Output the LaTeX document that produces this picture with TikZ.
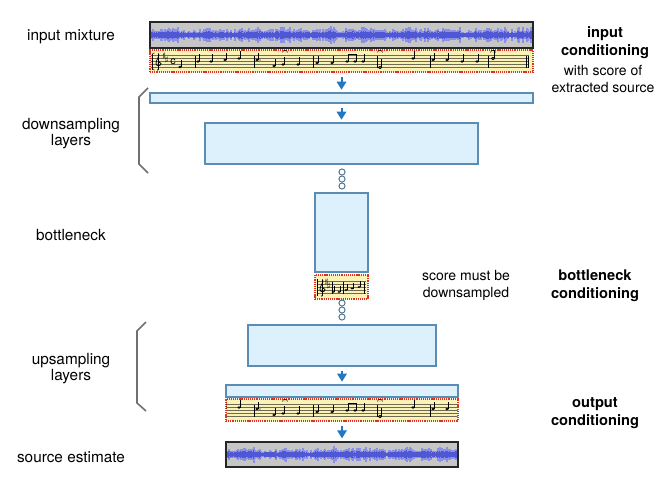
\documentclass[tikz,border=0pt]{standalone}
\usepackage{fontspec}
\setmainfont{TeX Gyre Heros}
\usetikzlibrary{fit,arrows.meta}
\definecolor{boxfill}{HTML}{DCF1FC}
\definecolor{boxdraw}{HTML}{5B8DB4}
\definecolor{arrowc}{HTML}{1F78C1}
\definecolor{wavebg}{HTML}{C6C6C6}
\definecolor{waveA}{HTML}{8A90E4}
\definecolor{waveB}{HTML}{4F57D4}
\definecolor{scorefill}{HTML}{FBF3B6}
\definecolor{scoredraw}{HTML}{E0301E}
\definecolor{brk}{HTML}{707070}
\definecolor{staffc}{HTML}{6F6A55}
\tikzset{
  layerbox/.style={draw=boxdraw, fill=boxfill, line width=0.9pt, inner sep=0pt},
  wavebox/.style={draw=black!85, fill=wavebg, line width=1.4pt, inner sep=0pt},
  scorebox/.style={draw=scoredraw, fill=scorefill, line width=0.9pt, dash pattern=on 0.9pt off 0.7pt, inner sep=0pt},
  arr/.style={draw=arrowc, line width=1.5pt, -{Triangle[length=6pt,width=7pt]}, shorten <=3pt, shorten >=2pt},
  dotc/.style={draw=boxdraw!80!black, line width=0.7pt, fill=white, circle, inner sep=0pt, minimum size=4.6pt},
  lbl/.style={font=\fontsize{11.5}{12}\selectfont, align=center, inner sep=0pt},
  rlbl/.style={font=\fontsize{10.5}{12.75}\selectfont, align=center, inner sep=0pt},
  blbl/.style={font=\fontsize{11}{13.5}\selectfont\bfseries, align=center, inner sep=0pt},
  staff/.style={draw=staffc, line width=0.4pt},
  stem/.style={draw=black, line width=0.45pt},
  brack/.style={draw=brk, line width=1.2pt},
}
\newcommand\wavedraw[4]{%
  \pgfmathsetseed{11}%
  \foreach \x in {#1,...,#2}{%
    \pgfmathsetmacro\wr{rnd}%
    \pgfmathsetmacro\wa{#4*(0.32+0.08*sin(\x*9)+0.06*sin(\x*23)+0.45*\wr*\wr)}%
    \pgfmathsetmacro\wb{\wa*0.4+1}%
    \draw[waveA, line width=0.8pt] (\x,#3-\wa) -- (\x,#3+\wa);%
    \draw[waveB, line width=0.8pt] (\x,#3-\wb) -- (\x,#3+\wb);%
  }%
}
\newcommand\nt[2]{%
  \fill (#1,#2) ellipse[x radius=1.3pt, y radius=0.95pt];
  \draw[stem] (#1+1.6,#2) -- (#1+1.6,#2-7.5);}
\newcommand\hnt[2]{%
  \draw[line width=0.5pt] (#1,#2) ellipse[x radius=1.3pt, y radius=0.95pt];
  \draw[stem] (#1+1.6,#2) -- (#1+1.6,#2-9);}
\newcommand\ferm[1]{%
  \draw[line width=0.4pt] (#1-2.5,52.5) .. controls (#1-2.5,49.5) and (#1+2.5,49.5) .. (#1+2.5,52.5);
  \fill (#1,52) circle (0.35pt);}
\newcommand\barln[1]{\draw[line width=0.5pt] (#1,55.5) -- (#1,67.5);}
\newcommand\shp[2]{\node[inner sep=0pt, font=\fontsize{5}{5}\selectfont] at (#1,#2) {$\sharp$};}
\newcommand\clef[2]{% x, staff-middle y
  \draw[line width=0.55pt] (#1+0.5,#2-8) .. controls (#1+2.5,#2-6) and (#1-2.5,#2-1) .. (#1-2,#2+2)
     .. controls (#1-2,#2+5) and (#1+3,#2+5) .. (#1+3,#2+2)
     .. controls (#1+3,#2) and (#1-0.5,#2) .. (#1,#2+2);
  \draw[line width=0.5pt] (#1+0.5,#2-8) -- (#1+0.5,#2+8) .. controls (#1+0.5,#2+9) and (#1-1,#2+9) .. (#1-1,#2+8);}
\newcommand\scorecontent{%
  \foreach \yy in {55.5,58.5,61.5,64.5,67.5} \draw[staff] (151,\yy) -- (529,\yy);
  \draw[line width=1.1pt] (152.5,53.5) -- (152.5,69.5);
  \draw[line width=0.4pt] (152.5,53.5) -- (154.5,53) (152.5,69.5) -- (154.5,70);
  \clef{158}{61.5}
  \shp{164}{55.5} \shp{166.5}{59.5}
  \node[inner sep=0pt, font=\fontsize{8}{8}\selectfont] at (173,61.5) {c};
  \nt{180}{67}
  \barln{195}
  \nt{198}{61.5} \nt{211}{61.5} \nt{225}{60} \nt{239}{58.5}
  \barln{254}
  \nt{257}{60} \fill (260,60) circle (0.4pt);
  \nt{274}{66} \nt{283}{64.5} \nt{298}{64.5}
  \ferm{285}
  \barln{313}
  \nt{317}{63} \nt{332}{63} \nt{347}{61.5} \nt{355}{61.5} \nt{363}{61.5}
  \draw[line width=1pt] (348.6,54.5) -- (356.6,54.5);
  \barln{377}
  \hnt{380}{67.5} \ferm{380}
  \nt{413}{58.5}
  \barln{430}
  \nt{433}{60} \nt{447}{60} \nt{462}{61.5} \nt{477}{61.5}
  \barln{488}
  \hnt{493}{58.5} \ferm{493}
  \draw[line width=0.4pt] (526,55.5) -- (526,67.5);
  \draw[line width=1.3pt] (528.5,55.5) -- (528.5,67.5);
}
\begin{document}
\begin{tikzpicture}[x=0.75pt, y=-0.75pt]
\useasboundingbox (0,0) rectangle (671,489);

% ---------- top: input mixture + score ----------
\node[wavebox, fit={(150,22)(533,48)}] (mix) {};
\begin{scope}
  \clip (151,23) rectangle (532,47);
  \wavedraw{152}{531}{35}{10}
\end{scope}
\node[scorebox, fit={(150,50)(533,72)}] (score1) {};
\begin{scope}
  \clip (150.5,50.5) rectangle (532.5,71.5);
  \scorecontent
\end{scope}

% ---------- downsampling ----------
\node[layerbox, fit={(150,93)(533,103)}] (down1) {};
\node[layerbox, fit={(205,123)(478,164)}] (down2) {};
\node[dotc] (c1) at (342,172) {};
\node[dotc] (c2) at (342,179) {};
\node[dotc] (c3) at (342,186) {};

% ---------- bottleneck ----------
\node[layerbox, fit={(315,193)(368,272)}] (bott) {};
\node[scorebox, fit={(315,275)(368,299)}] (score2) {};
\begin{scope}
  \clip (315.5,275.5) rectangle (367.5,298.5);
  \foreach \yy in {281.5,284.5,287.5,290.5,293.5} \draw[staff] (317,\yy) -- (366,\yy);
  \draw[line width=0.9pt] (317.5,279) -- (317.5,296);
  \clef{322}{287.5}
  \node[inner sep=0pt, font=\fontsize{5}{5}\selectfont] at (326.5,281.5) {$\sharp$};
  \node[inner sep=0pt, font=\fontsize{5}{5}\selectfont] at (328.5,285.5) {$\sharp$};
  \draw[line width=0.4pt] (332,281.5) -- (332,293.5);
  \fill (333,292) ellipse[x radius=1pt, y radius=0.8pt]; \draw[stem] (334.2,292) -- (334.2,286);
  \fill (339,292) ellipse[x radius=1pt, y radius=0.8pt]; \draw[stem] (340.2,292) -- (340.2,286);
  \draw[line width=0.4pt] (343,281.5) -- (343,293.5);
  \fill (346,290) ellipse[x radius=1pt, y radius=0.8pt]; \draw[stem] (347.2,290) -- (347.2,284);
  \fill (352,288.5) ellipse[x radius=1pt, y radius=0.8pt]; \draw[stem] (353.2,288.5) -- (353.2,282.5);
  \fill (359,287) ellipse[x radius=1pt, y radius=0.8pt]; \draw[stem] (360.2,287) -- (360.2,281);
  \draw[line width=0.4pt] (364,281.5) -- (364,293.5);
\end{scope}
\node[dotc] (c4) at (342,303) {};
\node[dotc] (c5) at (342,310) {};
\node[dotc] (c6) at (342,317) {};

% ---------- upsampling ----------
\node[layerbox, fit={(248,325)(436,366)}] (up1) {};
\node[layerbox, fit={(226,385)(458,397)}] (up2) {};
\node[scorebox, fit={(226,399)(458,421)}] (score3) {};
\begin{scope}
  \clip (226.5,399.5) rectangle (457.5,420.5);
  \begin{scope}[shift={(0,349)}]
    \scorecontent
  \end{scope}
\end{scope}
\node[wavebox, fit={(226,442)(458,467)}] (est) {};
\begin{scope}
  \clip (227,443) rectangle (457,466);
  \wavedraw{228}{456}{454.5}{9.5}
\end{scope}

% ---------- arrows ----------
\draw[arr] (score1.south) -- (down1.north);
\draw[arr] (down1.south) -- (down2.north);
\draw[arr] (up1.south) -- (up2.north);
\draw[arr] (score3.south) -- (est.north);

% ---------- brackets ----------
\draw[brack] (148,88) -- (139,97) -- (139,164) -- (148,173);
\draw[brack] (146,322) -- (137,331) -- (137,403) -- (146,411);

% ---------- labels ----------
\node[lbl] (lmix) at (71,37) {input mixture};
\node[lbl] (ldown) at (71,134) {downsampling\\layers};
\node[lbl] (lbott) at (71,235) {bottleneck};
\node[lbl] (lup) at (71,369) {upsampling\\layers};
\node[lbl] (lest) at (71,457) {source estimate};

\node[blbl] (rin) at (605,43) {input\\conditioning};
\node[rlbl] (rin2) at (603,78.5) {with score of\\extracted source};
\node[rlbl] (rdown) at (466,285.5) {score must be\\downsampled};
\node[blbl] (rbott) at (595,285.5) {bottleneck\\conditioning};
\node[blbl] (rout) at (595,413) {output\\conditioning};
\end{tikzpicture}
\end{document}
